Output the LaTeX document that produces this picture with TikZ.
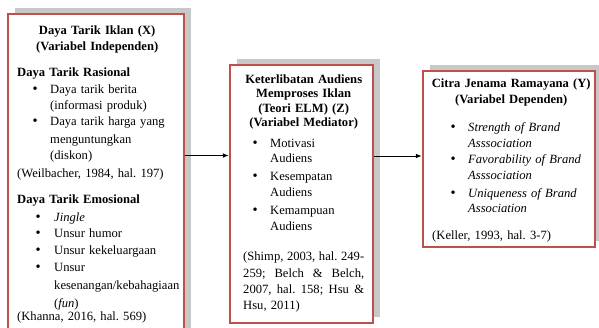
\documentclass[tikz,border=0pt]{standalone}
\usepackage{fontspec}
\setmainfont{Liberation Serif}
\usetikzlibrary{shadows,arrows.meta}
\definecolor{boxred}{RGB}{192,80,77}
\definecolor{shadowgray}{RGB}{200,200,200}
\setlength\parindent{0pt}
\setlength\parskip{0pt}
\frenchspacing
\newcommand\bul{{\fontsize{14.5}{14.5}\selectfont\textbullet}}
\newcommand\bitem[3]{\hspace*{#1}\makebox[#2][l]{\bul}\mbox{#3}}
\newcommand\jline[1]{\makebox[121pt][l]{#1}}
\newcommand\ctitle[2]{\makebox[#1][c]{\bfseries #2}}
\begin{document}
\begin{tikzpicture}[x=1pt,y=1pt,
  box/.style={draw=boxred, line width=2.2pt, fill=white, inner sep=0pt,
    drop shadow={shadow xshift=7pt, shadow yshift=6pt, fill=shadowgray, opacity=1}},
  txt/.style={anchor=base west, inner sep=0pt, align=left,
    font=\fontsize{12.6}{16.5}\selectfont},
  arr/.style={-{Latex[length=6pt,width=4.5pt]}, line width=0.9pt}]
\useasboundingbox (0,0) rectangle (599,-327);
\clip (0,0) rectangle (599,-327);
% boxes
\node[box, minimum width=176pt, minimum height=326pt] (b1) at (96,-177) {};
\node[box, minimum width=143pt, minimum height=258pt] (b2) at (301.5,-194) {};
\node[box, minimum width=172pt, minimum height=176pt] (b3) at (509,-159) {};
% box 1 text
\node[txt, text width=160pt] (t1) at (17,-34.5) {%
\ctitle{160pt}{Daya Tarik Iklan (X)}\\[-0.5pt]
\ctitle{160pt}{(Variabel Independen)}\\[9.5pt]
\textbf{Daya Tarik Rasional}\\[0.5pt]
\bitem{15.5pt}{17.5pt}{Daya tarik berita}\\[-0.5pt]
\hspace*{33pt}\mbox{(informasi produk)}\\[-0.5pt]
\bitem{15.5pt}{17.5pt}{Daya tarik harga yang}\\[1.5pt]
\hspace*{33pt}\mbox{menguntungkan}\\[-0.5pt]
\hspace*{33pt}\mbox{(diskon)}\\[1.5pt]
\mbox{(Weilbacher, 1984, hal. 197)}\\[9.5pt]
\textbf{Daya Tarik Emosional}\\[1.5pt]
\bitem{18.5pt}{18.5pt}{\textit{Jingle}}\\[-0.5pt]
\bitem{18.5pt}{18.5pt}{Unsur humor}\\[0.5pt]
\bitem{18.5pt}{18.5pt}{Unsur kekeluargaan}\\[0.5pt]
\bitem{18.5pt}{18.5pt}{Unsur}\\[1.5pt]
\hspace*{37pt}\mbox{kesenangan/kebahagiaan}\\[1.5pt]
\hspace*{37pt}\mbox{(\textit{fun})}\\[-3.5pt]
\mbox{(Khanna, 2016, hal. 569)}};
% box 2 text
\node[txt, text width=121pt] (t2) at (243,-83.5) {%
\ctitle{121pt}{Keterlibatan Audiens}\\[-2.2pt]
\ctitle{121pt}{Memproses Iklan}\\[-2.2pt]
\ctitle{121pt}{(Teori ELM) (Z)}\\[-2.2pt]
\ctitle{121pt}{(Variabel Mediator)}\\[4.5pt]
\bitem{9.5pt}{17.5pt}{Motivasi}\\[-1pt]
\hspace*{27pt}Audiens\\[1pt]
\bitem{9.5pt}{17.5pt}{Kesempatan}\\[-0.5pt]
\hspace*{27pt}Audiens\\[1.5pt]
\bitem{9.5pt}{17.5pt}{Kemampuan}\\[-0.5pt]
\hspace*{27pt}Audiens\\[13.5pt]
\jline{(Shimp,\hfill 2003,\hfill hal.\hfill 249-}\\[0.5pt]
\jline{259;\hfill Belch\hfill \&\hfill Belch,}\\[-0.5pt]
\jline{2007,\hfill hal.\hfill 158;\hfill Hsu\hfill \&}\\[-0.5pt]
\mbox{Hsu, 2011)}};
% box 3 text
\node[txt, text width=158pt] (t3) at (432,-87.5) {%
\ctitle{158pt}{Citra Jenama Ramayana (Y)}\\[-0.5pt]
\ctitle{158pt}{(Variabel Dependen)}\\[11.5pt]
\bitem{18.5pt}{17.5pt}{\textit{Strength of Brand}}\\[-0.5pt]
\hspace*{36pt}\mbox{\textit{Asssociation}}\\[-0.5pt]
\bitem{18.5pt}{17.5pt}{\textit{Favorability of Brand}}\\[-0.5pt]
\hspace*{36pt}\mbox{\textit{Asssociation}}\\[1.5pt]
\bitem{18.5pt}{17.5pt}{\textit{Uniqueness of Brand}}\\[-1.5pt]
\hspace*{36pt}\mbox{\textit{Association}}\\[10.5pt]
\mbox{(Keller, 1993, hal. 3-7)}};
% arrows
\coordinate (y1) at (0,-155.5);
\coordinate (y2) at (0,-156);
\draw[arr] (b1.east |- y1) -- (b2.west |- y1);
\draw[arr] (b2.east |- y2) -- (b3.west |- y2);
\end{tikzpicture}
\end{document}
